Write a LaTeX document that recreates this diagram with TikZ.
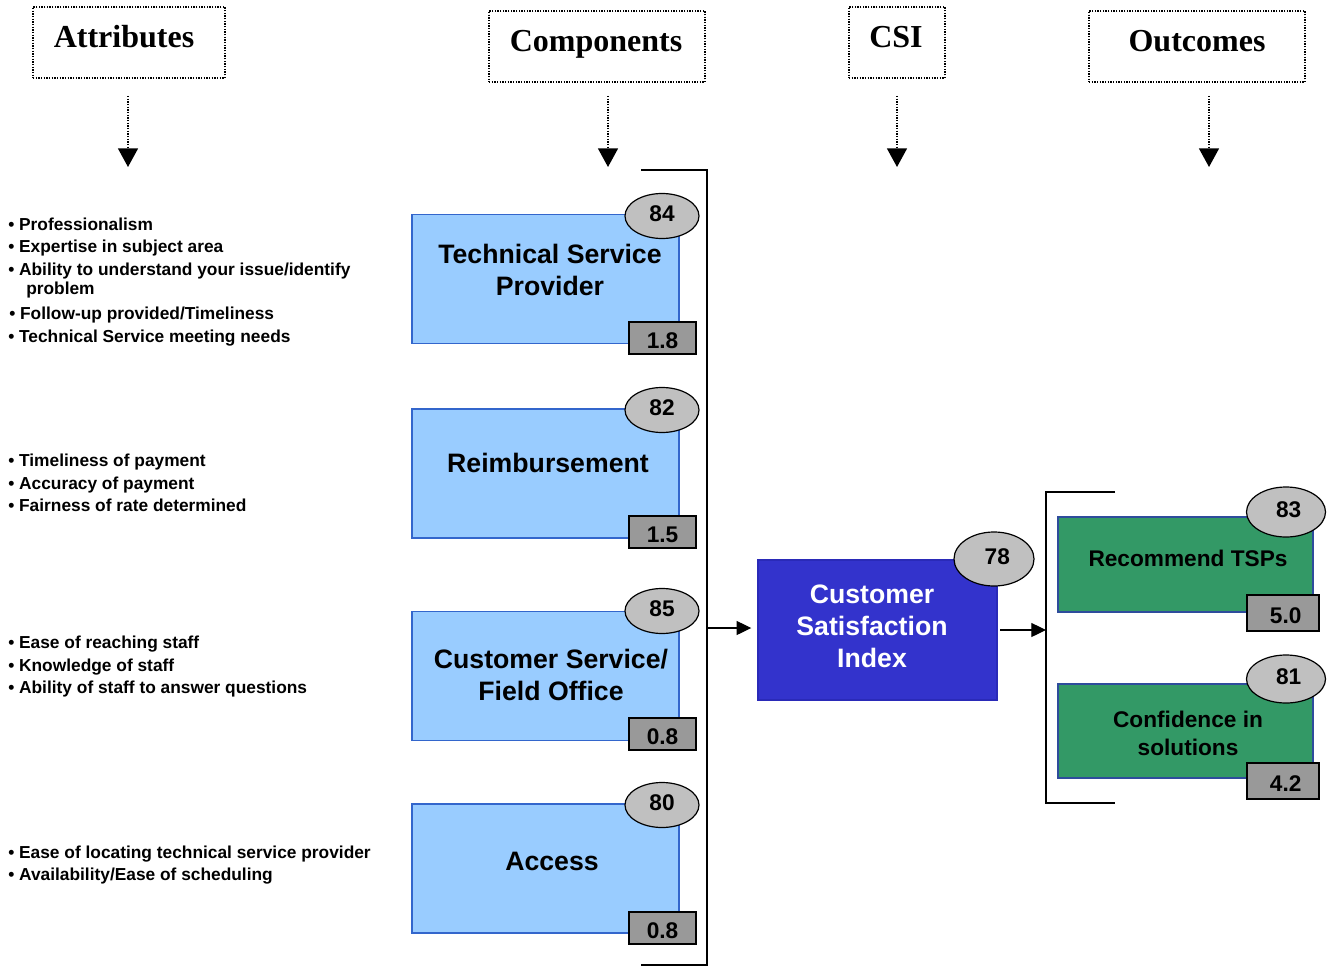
\documentclass[tikz,border=0pt]{standalone}
\usepackage{fontspec}
\setmainfont{Liberation Sans}
\newfontfamily\headfont{Liberation Serif}
\usetikzlibrary{arrows.meta,shapes.geometric}
\definecolor{compfill}{HTML}{99CCFF}
\definecolor{compedge}{HTML}{3366CC}
\definecolor{csifill}{HTML}{3333CC}
\definecolor{csiedge}{HTML}{2A2AB8}
\definecolor{outfill}{HTML}{339966}
\definecolor{outedge}{HTML}{2E4C9C}
\definecolor{wtfill}{HTML}{999999}
\definecolor{scorefill}{HTML}{C0C0C0}
\begin{document}
\begin{tikzpicture}[x=0.75pt,y=-0.75pt,
  headbox/.style={draw, line width=1.1pt, dash pattern=on 1pt off 1pt, inner sep=0,
    minimum height=71*0.75pt},
  headtext/.style={anchor=base, inner sep=0, font=\headfont\bfseries\fontsize{24pt}{28pt}\selectfont},
  dotarrow/.style={line width=1.1pt, dash pattern=on 1pt off 1pt,
    -{Triangle[length=14pt,width=15pt]}},
  flow/.style={line width=0.9pt, -{Triangle[length=11pt,width=10.5pt]}},
  bracket/.style={line width=1.1pt},
  attr/.style={anchor=base west, inner sep=0, font=\bfseries\fontsize{13pt}{16pt}\selectfont},
  comp/.style={draw=compedge, fill=compfill, line width=1.1pt, inner sep=0,
    minimum width=267*0.75pt, minimum height=129*0.75pt},
  comptext/.style={align=center, inner sep=0, font=\bfseries\fontsize{20pt}{24pt}\selectfont},
  score/.style={ellipse, draw, fill=scorefill, line width=0.9pt, inner sep=0,
    text height=12.2pt, text depth=4.5pt,
    minimum width=74*0.75pt, minimum height=45*0.75pt, font=\bfseries\fontsize{17pt}{20pt}\selectfont},
  weight/.style={draw, fill=wtfill, line width=0.9pt, inner sep=0,
    text height=16.4pt, text depth=0pt,
    minimum width=67*0.75pt, minimum height=32*0.75pt, font=\bfseries\fontsize{17pt}{20pt}\selectfont},
  csibox/.style={draw=csiedge, fill=csifill, line width=1.1pt, inner sep=0,
    minimum width=239*0.75pt, minimum height=140*0.75pt},
  outbox/.style={draw=outedge, fill=outfill, line width=1.1pt, inner sep=0,
    minimum width=255*0.75pt, minimum height=95*0.75pt},
  outtext/.style={align=center, inner sep=0, font=\bfseries\fontsize{17pt}{21pt}\selectfont},
]
\useasboundingbox (0,0) rectangle (1330,966);

% ---- column headings ----
\node[headbox, minimum width=192*0.75pt] (hA) at (129,42.5) {};
\node[headtext] (hAt) at (124,48) {Attributes};
\node[headbox, minimum width=216*0.75pt] (hC) at (597,46.5) {};
\node[headtext] (hCt) at (596,52) {Components};
\node[headbox, minimum width=96*0.75pt] (hS) at (897,42.5) {};
\node[headtext] (hSt) at (896,48) {CSI};
\node[headbox, minimum width=216*0.75pt] (hO) at (1197,46.5) {};
\node[headtext] (hOt) at (1197,52) {Outcomes};

\coordinate (aS) at (128,96);  \coordinate (aE) at (128,167);
\coordinate (cS) at (608,96);  \coordinate (cE) at (608,167);
\coordinate (sS) at (897,96);  \coordinate (sE) at (897,167);
\coordinate (oS) at (1209,96); \coordinate (oE) at (1209,167);
\draw[dotarrow] (aS) -- (aE);
\draw[dotarrow] (cS) -- (cE);
\draw[dotarrow] (sS) -- (sE);
\draw[dotarrow] (oS) -- (oE);

% ---- attribute lists ----
\node[attr] (t1) at (8,230)   {• Professionalism};
\node[attr] (t2) at (8,252.5) {• Expertise in subject area};
\node[attr] (t3) at (8,275)   {• Ability to understand your issue/identify};
\node[attr] (t4) at (26,294.5){problem};
\node[attr] (t5) at (9,319)   {• Follow-up provided/Timeliness};
\node[attr] (t6) at (8,342)   {• Technical Service meeting needs};

\node[attr] (r1) at (8,466) {• Timeliness of payment};
\node[attr] (r2) at (8,489) {• Accuracy of payment};
\node[attr] (r3) at (8,511) {• Fairness of rate determined};

\node[attr] (s1) at (8,648) {• Ease of reaching staff};
\node[attr] (s2) at (8,671) {• Knowledge of staff};
\node[attr] (s3) at (8,693) {• Ability of staff to answer questions};

\node[attr] (x1) at (8,858) {• Ease of locating technical service provider};
\node[attr] (x2) at (8,880) {• Availability/Ease of scheduling};

% ---- components ----
\node[comp] (tsp) at (545.5,279) {};
\node[comptext] (tspt) at (550,270) {Technical Service\\Provider};
\node[weight] (tspw) at (662.5,338) {1.8};
\node[score] (tsps) at (662,216) {84};

\node[comp] (reim) at (545.5,473.5) {};
\node[comptext] (reimt) at (548,463) {Reimbursement};
\node[weight] (reimw) at (662.5,532) {1.5};
\node[score] (reims) at (662,410) {82};

\node[comp] (cust) at (545.5,676) {};
\node[comptext] (custt) at (551,675) {Customer Service/\\Field Office};
\node[weight] (custw) at (662.5,734) {0.8};
\node[score] (custs) at (662,611) {85};

\node[comp] (acc) at (545.5,868.5) {};
\node[comptext] (acct) at (552,861) {Access};
\node[weight] (accw) at (662.5,928) {0.8};
\node[score] (accs) at (662,805) {80};

% bracket gathering the components
\coordinate (bTL) at (641,170); \coordinate (bTR) at (707,170);
\coordinate (bBR) at (707,965); \coordinate (bBL) at (641,965);
\draw[bracket] (bTL) -- (bTR) -- (bBR) -- (bBL);

% ---- CSI ----
\node[csibox] (csi) at (877.5,630) {};
\node[comptext, text=white] (csit) at (872,626) {Customer\\Satisfaction\\Index};
\node[score, minimum width=80*0.75pt, minimum height=54*0.75pt] (csis) at (994,559) {\hspace{5pt}78};

\coordinate (bOut) at (707,628);
\draw[flow] (bOut) -- ([xshift=-4.5pt]bOut -| csi.west);

% ---- outcomes ----
\coordinate (oTR) at (1115,492); \coordinate (oTL) at (1046,492);
\coordinate (oBL) at (1046,803); \coordinate (oBR) at (1115,803);
\draw[bracket] (oTR) -- (oTL) -- (oBL) -- (oBR);
\coordinate (oIn) at (1046,630);
\draw[flow] ([xshift=2pt]csi.east) -- (oIn);

\node[outbox] (rec) at (1185.5,564.5) {};
\node[outtext] (rect) at (1188,558) {Recommend TSPs};
\node[weight, minimum width=72*0.75pt, minimum height=36*0.75pt] (recw) at (1283,613) {\hspace{4pt}5.0};
\node[score, minimum width=79*0.75pt, minimum height=50*0.75pt] (recs) at (1286,512) {\hspace{4pt}83};

\node[outbox, minimum height=94*0.75pt] (conf) at (1185.5,731) {};
\node[outtext] (conft) at (1188,733) {Confidence in\\solutions};
\node[weight, minimum width=72*0.75pt, minimum height=36*0.75pt] (confw) at (1283,781) {\hspace{4pt}4.2};
\node[score, minimum width=79*0.75pt, minimum height=48*0.75pt] (confs) at (1286,679) {\hspace{4pt}81};
\end{tikzpicture}
\end{document}
